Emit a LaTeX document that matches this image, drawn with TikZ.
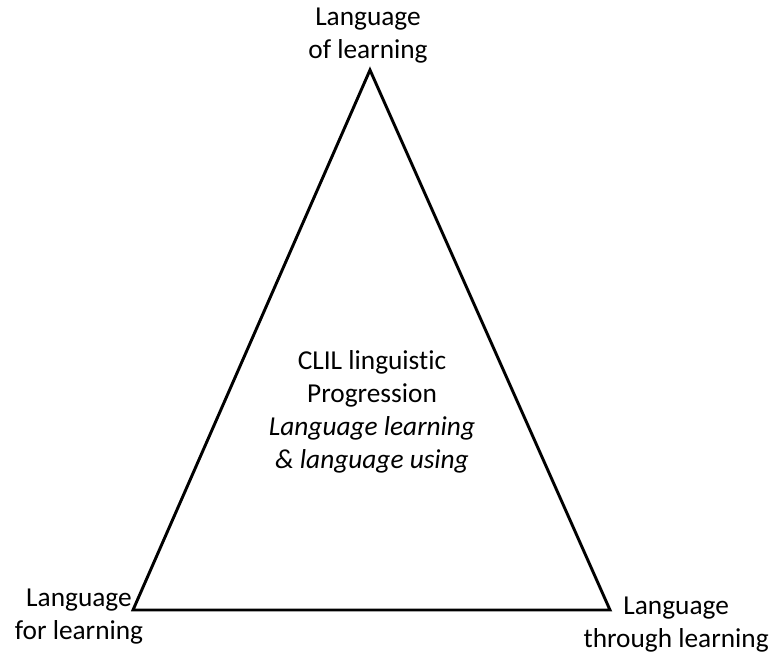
\documentclass[tikz,border=0pt]{standalone}
\usepackage{fontspec}
\setmainfont{Carlito}[Ligatures=NoCommon]
\usepackage{tikz}

\begin{document}
\begin{tikzpicture}[
		x=0.75pt, y=-0.75pt,
		every node/.style={align=center, inner sep=0pt, font=\fontsize{20.5}{24.75}\selectfont},
		side/.style={line width=2.2pt, line join=miter}
	]
  \useasboundingbox (0,0) rectangle (772,657);
  \coordinate (v_top) at (370,70);
  \coordinate (v_left) at (133,610);
  \coordinate (v_right) at (610,610);
  \node (l_top) at (368,36) {Language\\of learning};
  \node (l_left) at (79,617) {Language\\for learning};
  \node (l_right) [anchor=east] at (769,625) {Language\\through learning};
  \node (centre) at (372,412) {CLIL linguistic\\Progression\\\textit{Language learning}\\\textit{\& language using}};
  \draw[side] (v_top) -- (v_left) -- (v_right) -- cycle;
\end{tikzpicture}
\end{document}
